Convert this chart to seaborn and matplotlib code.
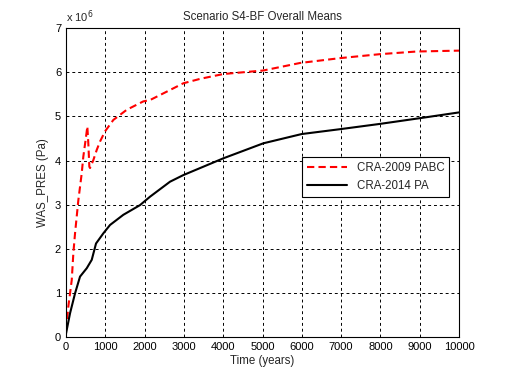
import numpy as np
import pandas as pd
import seaborn as sns
import matplotlib.pyplot as plt

# values (pressure in units of 1e6 Pa)
t_2009 = [0, 58, 145, 186, 229, 313, 399, 440, 509, 542, 567, 593, 611, 695, 781, 865,
          992, 1204, 1545, 1967, 2137, 2562, 2985, 3410, 4003, 5020, 5954, 6972, 7990, 8923, 10000]
p_2009 = [0.15, 0.69, 1.29, 1.90, 2.35, 3.10, 3.71, 4.09, 4.54, 4.77, 4.39, 3.86, 3.83, 4.01, 4.24, 4.43,
          4.66, 4.92, 5.15, 5.34, 5.37, 5.56, 5.75, 5.85, 5.96, 6.04, 6.21, 6.32, 6.41, 6.47, 6.49]
t_2014 = [0, 17, 102, 229, 356, 527, 654, 763, 949, 1120, 1458, 1883, 2137, 2646, 2985,
          4003, 5020, 5997, 6972, 7990, 9008, 10000]
p_2014 = [0.08, 0.16, 0.54, 0.99, 1.37, 1.56, 1.75, 2.12, 2.35, 2.54, 2.77, 2.99, 3.18, 3.52, 3.67,
          4.05, 4.39, 4.60, 4.71, 4.83, 4.96, 5.09]

df09 = pd.DataFrame({'Time': t_2009, 'Pres': p_2009})
df14 = pd.DataFrame({'Time': t_2014, 'Pres': p_2014})

sns.set_style('white')
plt.rcParams['font.family'] = ['Liberation Sans', 'DejaVu Sans']
plt.rcParams['font.size'] = 8

fig = plt.figure(figsize=(5.08, 3.80), dpi=100)
ax = fig.add_axes([0.130, 0.113, 0.7735, 0.813])

sns.lineplot(data=df09, x='Time', y='Pres', ax=ax, color='red', linewidth=1.5,
             linestyle=(0, (3.5, 2)), label='CRA-2009 PABC')
sns.lineplot(data=df14, x='Time', y='Pres', ax=ax, color='black', linewidth=1.5,
             label='CRA-2014 PA')

ax.set_xlim(0, 10000)
ax.set_ylim(0, 7)
ax.set_xticks(np.arange(0, 10001, 1000))
ax.set_yticks(np.arange(0, 8, 1))
ax.grid(True, color='black', linestyle=(0, (3, 3)), linewidth=0.7)
ax.tick_params(direction='in', length=3, labelsize=8, colors='black')
for s in ax.spines.values():
    s.set_color('black')
    s.set_linewidth(0.8)

ax.set_title('Scenario S4-BF Overall Means', fontsize=8.3)
ax.set_xlabel('Time (years)', fontsize=8.3, labelpad=2)
ax.set_ylabel('WAS_PRES (Pa)', fontsize=8.3)
ax.text(0.0, 1.01, r'x 10$^6$', transform=ax.transAxes, fontsize=8, ha='left', va='bottom')

leg = ax.legend(loc='lower left', bbox_to_anchor=(0.60, 0.453), borderaxespad=0,
                fancybox=False, framealpha=1, edgecolor='black', fontsize=8.3,
                handlelength=3.5, borderpad=0.45)
leg.get_frame().set_linewidth(0.8)

fig.savefig('out.png', dpi=100)
